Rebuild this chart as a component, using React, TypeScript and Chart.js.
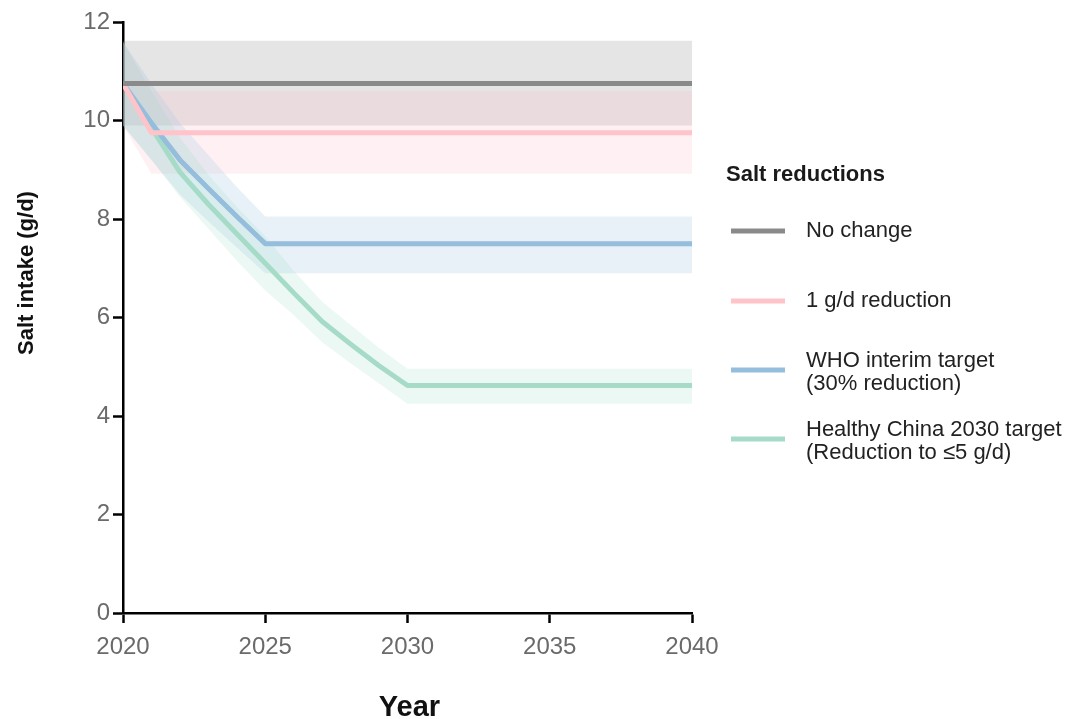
import React, { useEffect, useRef } from "react";
import { Chart, registerables } from "chart.js";

Chart.register(...registerables);

const FONT = '"Liberation Sans", Arial, Helvetica, sans-serif';

// Projected mean salt intake (g/d) with uncertainty range, per scenario
const noChangeYears = [2020, 2040];
const noChangeMean = [10.75, 10.75];
const noChangeUpper = [11.62, 11.62];
const noChangeLower = [9.9, 9.9];

const oneGramYears = [2020, 2021, 2040];
const oneGramMean = [10.75, 9.75, 9.75];
const oneGramUpper = [11.6, 10.6, 10.6];
const oneGramLower = [9.9, 8.92, 8.92];

const whoYears = [2020, 2021, 2022, 2023, 2024, 2025, 2040];
const whoMean = [10.75, 9.95, 9.2, 8.62, 8.05, 7.5, 7.5];
const whoUpper = [11.6, 10.75, 9.95, 9.3, 8.65, 8.05, 8.05];
const whoLower = [9.9, 9.2, 8.5, 7.95, 7.42, 6.9, 6.9];

const healthyYears = [2020, 2021, 2022, 2023, 2024, 2025, 2026, 2027, 2028, 2029, 2030, 2040];
const healthyMean = [10.75, 9.85, 8.95, 8.3, 7.7, 7.1, 6.5, 5.92, 5.46, 5.02, 4.62, 4.62];
const healthyUpper = [11.6, 10.6, 9.65, 8.9, 8.25, 7.65, 6.95, 6.32, 5.85, 5.38, 4.96, 4.96];
const healthyLower = [9.9, 9.2, 8.45, 7.8, 7.15, 6.55, 6.05, 5.5, 5.07, 4.66, 4.25, 4.25];

const legendTitle = "Salt reductions";
const seriesLabels = [
  ["No change"],
  ["1 g/d reduction"],
  ["WHO interim target", "(30% reduction)"],
  ["Healthy China 2030 target", "(Reduction to \u22645 g/d)"],
];
const lineColors = ["#8a8a8a", "#ffc3ca", "#95bddc", "#a6dcc7"];
const bandColors = [
  "rgba(130,130,130,0.21)",
  "rgba(255,190,200,0.22)",
  "rgba(150,190,222,0.22)",
  "rgba(160,220,196,0.2)",
];

const xTicksMin = 2020;
const xTicksMax = 2040;
const xStep = 5;
const yMin = 0;
const yMax = 12;
const yStep = 2;

const xTitle = "Year";
const yTitle = "Salt intake (g/d)";

const series = [
  { years: noChangeYears, mean: noChangeMean, upper: noChangeUpper, lower: noChangeLower },
  { years: oneGramYears, mean: oneGramMean, upper: oneGramUpper, lower: oneGramLower },
  { years: whoYears, mean: whoMean, upper: whoUpper, lower: whoLower },
  { years: healthyYears, mean: healthyMean, upper: healthyUpper, lower: healthyLower },
];

const toPoints = (xs: number[], ys: number[]) => xs.map((x, i) => ({ x, y: ys[i] }));

function buildDatasets() {
  const datasets: any[] = [];
  // uncertainty bands: upper edge filled down to lower edge
  series.forEach((s, i) => {
    const upperIndex = datasets.length;
    datasets.push({
      label: seriesLabels[i].join(" ") + " upper",
      data: toPoints(s.years, s.upper),
      borderWidth: 0,
      pointRadius: 0,
      backgroundColor: bandColors[i],
      fill: { target: upperIndex + 1 },
      order: 20 - i,
    });
    datasets.push({
      label: seriesLabels[i].join(" ") + " lower",
      data: toPoints(s.years, s.lower),
      borderWidth: 0,
      pointRadius: 0,
      fill: false,
      order: 20 - i,
    });
  });
  // central projections, "No change" drawn on top
  series.forEach((s, i) => {
    datasets.push({
      label: seriesLabels[i].join(" "),
      data: toPoints(s.years, s.mean),
      borderColor: lineColors[i],
      borderWidth: 5,
      pointRadius: 0,
      fill: false,
      tension: 0,
      borderCapStyle: "butt",
      borderJoinStyle: "round",
      order: i,
    });
  });
  return datasets;
}

const decorations = {
  id: "saltDecorations",
  afterDraw(chart: any) {
    const { ctx, chartArea } = chart;
    ctx.save();

    // axis titles
    ctx.fillStyle = "#111111";
    ctx.textAlign = "center";
    ctx.textBaseline = "middle";
    ctx.font = `bold 29px ${FONT}`;
    ctx.fillText(xTitle, (chartArea.left + chartArea.right) / 2 + 2, 708);

    ctx.save();
    ctx.translate(27, 273);
    ctx.rotate(-Math.PI / 2);
    ctx.font = `bold 22px ${FONT}`;
    ctx.fillText(yTitle, 0, 0);
    ctx.restore();

    // legend
    const lx = chartArea.right + 34;
    ctx.textAlign = "left";
    ctx.fillStyle = "#1a1a1a";
    ctx.font = `bold 22px ${FONT}`;
    ctx.fillText(legendTitle, lx, 175);

    const rows = [231, 301, 370, 439];
    ctx.font = `22px ${FONT}`;
    seriesLabels.forEach((lines, i) => {
      const y = rows[i];
      ctx.strokeStyle = lineColors[i];
      ctx.lineWidth = 5;
      ctx.lineCap = "butt";
      ctx.beginPath();
      ctx.moveTo(lx + 5, y);
      ctx.lineTo(lx + 59, y);
      ctx.stroke();
      ctx.fillStyle = "#222222";
      if (lines.length === 1) {
        ctx.fillText(lines[0], lx + 80, y);
      } else {
        ctx.fillText(lines[0], lx + 80, y - 9);
        ctx.fillText(lines[1], lx + 80, y + 14);
      }
    });
    ctx.restore();
  },
};

export default function App() {
  const canvasRef = useRef<HTMLCanvasElement | null>(null);

  useEffect(() => {
    if (!canvasRef.current) return;
    const chart = new Chart(canvasRef.current, {
      type: "line",
      data: { datasets: buildDatasets() },
      options: {
        animation: false,
        responsive: false,
        maintainAspectRatio: false,
        layout: { padding: { left: 0, top: 22, right: 376, bottom: 0 } },
        plugins: {
          legend: { display: false },
          tooltip: { enabled: false },
          title: { display: false },
        },
        scales: {
          x: {
            type: "linear",
            min: xTicksMin,
            max: xTicksMax,
            afterFit: (scale: any) => {
              scale.height = 106;
            },
            ticks: {
              stepSize: xStep,
              color: "#6a6a6a",
              padding: 10,
              font: { family: FONT, size: 24 },
              callback: (v: any) => String(v),
            },
            grid: {
              display: true,
              drawOnChartArea: false,
              drawTicks: true,
              tickLength: 10,
              tickColor: "#000000",
              tickWidth: 2.5,
              color: "#000000",
            },
            border: { display: true, color: "#000000", width: 2.5 },
          },
          y: {
            type: "linear",
            min: yMin,
            max: yMax,
            afterFit: (scale: any) => {
              scale.width = 123;
            },
            ticks: {
              stepSize: yStep,
              color: "#6a6a6a",
              padding: 3,
              font: { family: FONT, size: 24 },
            },
            grid: {
              display: true,
              drawOnChartArea: false,
              drawTicks: true,
              tickLength: 10,
              tickColor: "#000000",
              tickWidth: 2.5,
              color: "#000000",
            },
            border: { display: true, color: "#000000", width: 2.5 },
          },
        },
      },
      plugins: [decorations],
    });
    return () => chart.destroy();
  }, []);

  return (
    <div style={{ position: "fixed", left: 0, top: 0, width: 1068, height: 719, background: "#ffffff" }}>
      <canvas ref={canvasRef} width={1068} height={719} style={{ width: 1068, height: 719, display: "block" }} />
    </div>
  );
}
